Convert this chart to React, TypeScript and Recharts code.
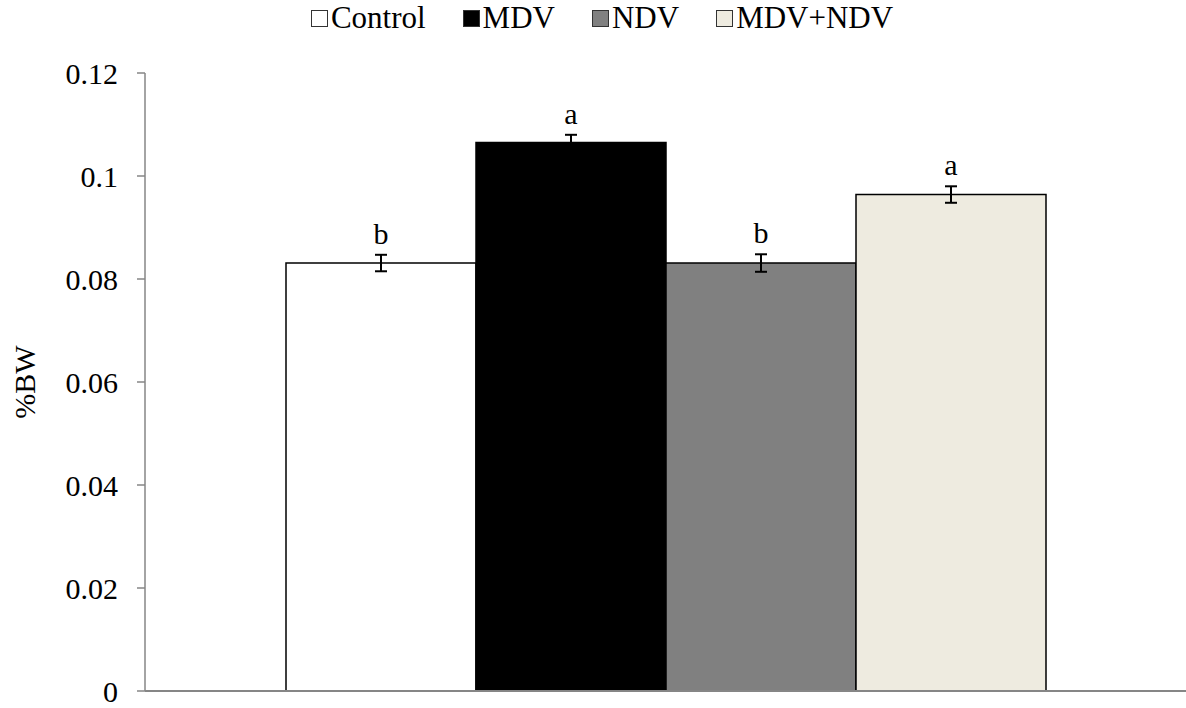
import React from "react";
import { BarChart, Bar, XAxis, YAxis, Legend, ErrorBar, LabelList } from "recharts";

// values
const groups = ["Control", "MDV", "NDV", "MDV+NDV"];
const means = [0.0831, 0.1065, 0.0831, 0.0964];
const sems = [0.0016, 0.0015, 0.0017, 0.0016];
const letters = ["b", "a", "b", "a"];
const yTicks = [0, 0.02, 0.04, 0.06, 0.08, 0.1, 0.12];

const fills = ["#ffffff", "#000000", "#808080", "#eeebe0"];
const FONT = '"Liberation Serif", "Times New Roman", serif';

const row: any = { name: "" };
groups.forEach((g, i) => {
  row["s" + i] = means[i];
  row["e" + i] = sems[i];
});
const data = [row];

function LegendBox() {
  return (
    <div
      style={{
        display: "flex",
        justifyContent: "center",
        alignItems: "center",
        fontFamily: FONT,
        fontSize: 31,
        lineHeight: "30px",
        gap: 37,
        color: "#000",
      }}
    >
      {groups.map((g, i) => (
        <div key={g} style={{ display: "flex", alignItems: "center" }}>
          <span
            style={{
              display: "inline-block",
              width: 15,
              height: 15,
              background: fills[i],
              border: "1.5px solid #333",
              marginRight: 3,
            }}
          />
          <span>{g}</span>
        </div>
      ))}
    </div>
  );
}

export default function App() {
  return (
    <div style={{ position: "absolute", left: 0, top: 0, background: "#fff" }}>
      <BarChart
        width={1186}
        height={708}
        data={data}
        margin={{ top: 73, right: 0, bottom: 16, left: 0 }}
        barSize={190}
        barGap={0}
      >
        <XAxis
          dataKey="name"
          tick={false}
          tickLine={false}
          height={1}
          axisLine={{ stroke: "#868686", strokeWidth: 2 }}
        />
        <YAxis
          width={145}
          domain={[0, 0.12]}
          ticks={yTicks}
          interval={0}
          tickSize={8}
          tickMargin={19}
          tickFormatter={(v: number) => String(v)}
          tick={{ fill: "#000", fontSize: 30, fontFamily: FONT }}
          axisLine={{ stroke: "#868686", strokeWidth: 1.5 }}
          tickLine={{ stroke: "#868686", strokeWidth: 1.5 }}
          label={(props: any) => {
            const vb = props.viewBox || { y: 73, height: 618 };
            const cy = vb.y + vb.height / 2;
            return (
              <text
                x={35}
                y={cy}
                transform={`rotate(-90, 35, ${cy})`}
                textAnchor="middle"
                fontFamily={FONT}
                fontSize={30}
                fill="#000"
              >
                %BW
              </text>
            );
          }}
        />
        <Legend
          layout="horizontal"
          verticalAlign="middle"
          align="center"
          content={() => <LegendBox />}
          wrapperStyle={{ top: 3, left: 2, width: 1200 }}
        />
        {groups.map((g, i) => (
          <Bar
            key={g}
            dataKey={"s" + i}
            name={g}
            fill={fills[i]}
            stroke="#000"
            strokeWidth={1.5}
            isAnimationActive={false}
          >
            <ErrorBar dataKey={"e" + i} width={6} stroke="#000" strokeWidth={2} direction="y" />
            <LabelList
              dataKey={"s" + i}
              content={(p: any) => {
                const errPx = (sems[i] * p.height) / p.value;
                return (
                  <text
                    x={p.x + p.width / 2}
                    y={p.y - errPx - 11}
                    textAnchor="middle"
                    fontFamily={FONT}
                    fontSize={30}
                    fill="#000"
                  >
                    {letters[i]}
                  </text>
                );
              }}
            />
          </Bar>
        ))}
      </BarChart>
    </div>
  );
}
